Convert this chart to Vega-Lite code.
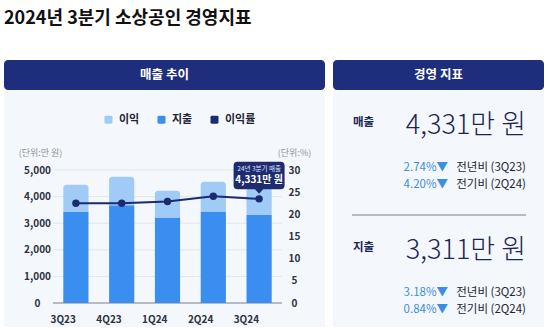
{
  "$schema": "https://vega.github.io/schema/vega-lite/v6.json",
  "padding": {"left": 4, "top": 10, "right": 0, "bottom": 0},
  "background": "white",
  "title": {"text": "2024년 3분기 소상공인 경영지표", "anchor": "start", "fontSize": 18, "fontWeight": 700, "color": "#111111", "font": "Noto Sans CJK KR", "offset": 32},
  "config": {"font": "Noto Sans CJK KR", "view": {"stroke": null}},
  "spacing": 8,
  "hconcat": [
    {
      "spacing": 0,
      "vconcat": [
        {
          "width": 321, "height": 30,
          "view": {"fill": "#1f2e7c", "stroke": null, "cornerRadius": 4},
          "data": {"values": [{"제목": "매출 추이"}]},
          "mark": {"type": "text", "color": "white", "fontSize": 12.5, "fontWeight": 700, "baseline": "middle", "align": "center"},
          "encoding": {"text": {"field": "제목"}}
        },
        {
          "width": 321, "height": 237,
          "view": {"fill": "#f4f8fd", "stroke": null},
          "data": {"values": [
            {"분기": "3Q23", "매출": 4447, "지출": 3424, "이익률": 22.5},
            {"분기": "4Q23", "매출": 4748, "지출": 3674, "이익률": 22.5},
            {"분기": "1Q24", "매출": 4222, "지출": 3211, "이익률": 22.9},
            {"분기": "2Q24", "매출": 4560, "지출": 3440, "이익률": 24.1},
            {"분기": "3Q24", "매출": 4331, "지출": 3311, "이익률": 23.5}
          ]},
          "resolve": {"scale": {"y": "independent"}},
          "layer": [
            {
              "layer": [
                {
                  "data": {"values": [{"눈금": 0}, {"눈금": 1000}, {"눈금": 2000}, {"눈금": 3000}, {"눈금": 4000}, {"눈금": 5000}]},
                  "mark": {"type": "rule"},
                  "encoding": {
                    "x": {"datum": "3Q23", "type": "nominal", "bandPosition": -0.41, "scale": {"domain": ["3Q23", "4Q23", "1Q24", "2Q24", "3Q24"], "range": [49, 278], "paddingInner": 0.45, "paddingOuter": 0.225}},
                    "x2": {"datum": "3Q24", "bandPosition": 1.41},
                    "y": {"field": "눈금", "type": "quantitative", "scale": {"domain": [-902, 8008], "nice": false, "zero": false},
                      "axis": {"orient": "left", "offset": -33, "values": [0, 1000, 2000, 3000, 4000, 5000], "format": ",.0f", "ticks": false, "tickSize": 0, "domain": false, "grid": false, "labelPadding": 0, "labelAlign": "center", "labelBaseline": "middle", "labelFontSize": 10, "labelFontWeight": 600, "labelColor": "#2d3142", "title": "(단위:만 원)", "titleAngle": 0, "titleX": 3, "titleY": 62, "titleAlign": "center", "titleBaseline": "middle", "titleFontSize": 9, "titleFontWeight": 400, "titleColor": "#8d929c"}},
                    "stroke": {"condition": {"test": "datum['눈금'] === 0", "value": "#a3a7ae"}, "value": "#e1e5ec"},
                    "strokeWidth": {"condition": {"test": "datum['눈금'] === 0", "value": 1.5}, "value": 1}
                  }
                },
                {
                  "mark": {"type": "bar"},
                  "encoding": {
                    "x": {"field": "분기", "type": "nominal", "sort": null,
                      "axis": {"title": null, "orient": "bottom", "offset": -8, "ticks": false, "tickSize": 0, "domain": false, "grid": false, "labelPadding": 0, "labelBaseline": "middle", "labelAngle": 0, "labelFontSize": 10, "labelFontWeight": 600, "labelColor": "#2d3142"}},
                    "y": {"field": "지출", "type": "quantitative", "scale": {"domain": [-902, 8008], "nice": false, "zero": false},
                      "axis": {"orient": "left", "offset": -33, "values": [0, 1000, 2000, 3000, 4000, 5000], "format": ",.0f", "ticks": false, "tickSize": 0, "domain": false, "grid": false, "labelPadding": 0, "labelAlign": "center", "labelBaseline": "middle", "labelFontSize": 10, "labelFontWeight": 600, "labelColor": "#2d3142", "title": "(단위:만 원)", "titleAngle": 0, "titleX": 3, "titleY": 62, "titleAlign": "center", "titleBaseline": "middle", "titleFontSize": 9, "titleFontWeight": 400, "titleColor": "#8d929c"}},
                    "y2": {"datum": 0},
                    "color": {"datum": "지출", "type": "nominal"}
                  }
                },
                {
                  "mark": {"type": "bar", "cornerRadiusTopLeft": 3, "cornerRadiusTopRight": 3},
                  "encoding": {
                    "x": {"field": "분기", "type": "nominal", "sort": null},
                    "y": {"field": "매출", "type": "quantitative", "scale": {"domain": [-902, 8008], "nice": false, "zero": false},
                      "axis": {"orient": "left", "offset": -33, "values": [0, 1000, 2000, 3000, 4000, 5000], "format": ",.0f", "ticks": false, "tickSize": 0, "domain": false, "grid": false, "labelPadding": 0, "labelAlign": "center", "labelBaseline": "middle", "labelFontSize": 10, "labelFontWeight": 600, "labelColor": "#2d3142", "title": "(단위:만 원)", "titleAngle": 0, "titleX": 3, "titleY": 62, "titleAlign": "center", "titleBaseline": "middle", "titleFontSize": 9, "titleFontWeight": 400, "titleColor": "#8d929c"}},
                    "y2": {"field": "지출"},
                    "color": {"datum": "이익", "type": "nominal",
                      "scale": {"domain": ["이익", "지출", "이익률"], "range": ["#9fcbf6", "#3a8ef0", "#1c2a70"]},
                      "legend": {"orient": "none", "legendX": 99, "legendY": 54, "direction": "horizontal", "title": null,
                        "symbolType": "M-0.65,-1 L0.65,-1 Q1,-1 1,-0.65 L1,0.65 Q1,1 0.65,1 L-0.65,1 Q-1,1 -1,0.65 L-1,-0.65 Q-1,-1 -0.65,-1 Z",
                        "symbolSize": 64, "symbolStrokeWidth": 0, "labelFontSize": 11, "labelFontWeight": 600, "labelColor": "#1f2433", "columnPadding": 16, "labelOffset": 5}}
                  }
                }
              ]
            },
            {
              "layer": [
                {
                  "mark": {"type": "line", "strokeWidth": 2},
                  "encoding": {
                    "x": {"field": "분기", "type": "nominal", "sort": null},
                    "y": {"field": "이익률", "type": "quantitative", "scale": {"domain": [-5.41, 48.05], "nice": false, "zero": false},
                      "axis": {"orient": "right", "offset": -31, "values": [0, 5, 10, 15, 20, 25, 30], "ticks": false, "tickSize": 0, "domain": false, "grid": false, "labelPadding": 0, "labelAlign": "center", "labelBaseline": "middle", "labelFontSize": 10, "labelFontWeight": 600, "labelColor": "#2d3142", "title": "(단위:%)", "titleAngle": 0, "titleX": 0, "titleY": 62, "titleAlign": "center", "titleBaseline": "middle", "titleFontSize": 9, "titleFontWeight": 400, "titleColor": "#8d929c"}},
                    "color": {"datum": "이익률", "type": "nominal"}
                  }
                },
                {
                  "mark": {"type": "point", "filled": true, "size": 55, "opacity": 1},
                  "encoding": {
                    "x": {"field": "분기", "type": "nominal", "sort": null},
                    "y": {"field": "이익률", "type": "quantitative", "scale": {"domain": [-5.41, 48.05], "nice": false, "zero": false},
                      "axis": {"orient": "right", "offset": -31, "values": [0, 5, 10, 15, 20, 25, 30], "ticks": false, "tickSize": 0, "domain": false, "grid": false, "labelPadding": 0, "labelAlign": "center", "labelBaseline": "middle", "labelFontSize": 10, "labelFontWeight": 600, "labelColor": "#2d3142", "title": "(단위:%)", "titleAngle": 0, "titleX": 0, "titleY": 62, "titleAlign": "center", "titleBaseline": "middle", "titleFontSize": 9, "titleFontWeight": 400, "titleColor": "#8d929c"}},
                    "color": {"datum": "이익률", "type": "nominal"}
                  }
                },
                {
                  "transform": [{"filter": {"field": "분기", "equal": "3Q24"}}],
                  "mark": {"type": "point", "filled": true, "opacity": 1, "size": 2601, "color": "#1e2b6f", "strokeWidth": 0,
                    "shape": "M-0.843,-1.451 L0.843,-1.451 Q1,-1.451 1,-1.294 L1,-0.537 Q1,-0.38 0.843,-0.38 L0.16,-0.38 L0,-0.2 L-0.16,-0.38 L-0.843,-0.38 Q-1,-0.38 -1,-0.537 L-1,-1.294 Q-1,-1.451 -0.843,-1.451 Z"},
                  "encoding": {
                    "x": {"field": "분기", "type": "nominal", "sort": null},
                    "y": {"field": "이익률", "type": "quantitative", "scale": {"domain": [-5.41, 48.05], "nice": false, "zero": false},
                      "axis": {"orient": "right", "offset": -31, "values": [0, 5, 10, 15, 20, 25, 30], "ticks": false, "tickSize": 0, "domain": false, "grid": false, "labelPadding": 0, "labelAlign": "center", "labelBaseline": "middle", "labelFontSize": 10, "labelFontWeight": 600, "labelColor": "#2d3142", "title": "(단위:%)", "titleAngle": 0, "titleX": 0, "titleY": 62, "titleAlign": "center", "titleBaseline": "middle", "titleFontSize": 9, "titleFontWeight": 400, "titleColor": "#8d929c"}}
                  }
                },
                {
                  "transform": [{"filter": {"field": "분기", "equal": "3Q24"}}],
                  "mark": {"type": "text", "fontSize": 6.5, "color": "#dfe6ff", "dy": -30, "baseline": "middle", "align": "center", "text": "24년 3분기 매출"},
                  "encoding": {
                    "x": {"field": "분기", "type": "nominal", "sort": null},
                    "y": {"field": "이익률", "type": "quantitative", "scale": {"domain": [-5.41, 48.05], "nice": false, "zero": false},
                      "axis": {"orient": "right", "offset": -31, "values": [0, 5, 10, 15, 20, 25, 30], "ticks": false, "tickSize": 0, "domain": false, "grid": false, "labelPadding": 0, "labelAlign": "center", "labelBaseline": "middle", "labelFontSize": 10, "labelFontWeight": 600, "labelColor": "#2d3142", "title": "(단위:%)", "titleAngle": 0, "titleX": 0, "titleY": 62, "titleAlign": "center", "titleBaseline": "middle", "titleFontSize": 9, "titleFontWeight": 400, "titleColor": "#8d929c"}}
                  }
                },
                {
                  "transform": [{"filter": {"field": "분기", "equal": "3Q24"}}],
                  "mark": {"type": "text", "fontSize": 10, "fontWeight": 700, "color": "white", "dy": -18.5, "baseline": "middle", "align": "center", "text": {"expr": "format(datum['매출'], ',') + '만 원'"}},
                  "encoding": {
                    "x": {"field": "분기", "type": "nominal", "sort": null},
                    "y": {"field": "이익률", "type": "quantitative", "scale": {"domain": [-5.41, 48.05], "nice": false, "zero": false},
                      "axis": {"orient": "right", "offset": -31, "values": [0, 5, 10, 15, 20, 25, 30], "ticks": false, "tickSize": 0, "domain": false, "grid": false, "labelPadding": 0, "labelAlign": "center", "labelBaseline": "middle", "labelFontSize": 10, "labelFontWeight": 600, "labelColor": "#2d3142", "title": "(단위:%)", "titleAngle": 0, "titleX": 0, "titleY": 62, "titleAlign": "center", "titleBaseline": "middle", "titleFontSize": 9, "titleFontWeight": 400, "titleColor": "#8d929c"}}
                  }
                }
              ]
            }
          ]
        }
      ]
    },
    {
      "spacing": 0,
      "vconcat": [
        {
          "width": 211, "height": 30,
          "view": {"fill": "#1f2e7c", "stroke": null, "cornerRadius": 4},
          "data": {"values": [{"제목": "경영 지표"}]},
          "mark": {"type": "text", "color": "white", "fontSize": 12.5, "fontWeight": 700, "baseline": "middle", "align": "center"},
          "encoding": {"text": {"field": "제목"}}
        },
        {
          "width": 211, "height": 237,
          "view": {"fill": "#f4f8fd", "stroke": null},
          "data": {"values": [
            {"지표": "매출", "금액": 4331, "전년비": 2.74, "전기비": 4.20},
            {"지표": "지출", "금액": 3311, "전년비": 3.18, "전기비": 0.84}
          ]},
          "layer": [
            {
              "transform": [{"filter": {"field": "지표", "equal": "지출"}}],
              "mark": {"type": "rule", "color": "#a3a6ac", "strokeWidth": 1.5},
              "encoding": {
                "x": {"datum": "라벨", "type": "nominal", "scale": {"type": "point", "domain": ["라벨", "값"], "range": [19, 193], "padding": 0}, "axis": null},
                "x2": {"datum": "값"},
                "y": {"field": "지표", "type": "nominal", "bandPosition": 0, "scale": {"type": "band", "domain": ["매출", "지출"], "range": [0, 250], "paddingInner": 0, "paddingOuter": 0}, "axis": null}
              }
            },
            {
              "mark": {"type": "text", "align": "left", "baseline": "middle", "fontSize": 11.5, "fontWeight": 700, "color": "#1b2556", "dx": 1},
              "encoding": {
                "x": {"datum": "라벨", "type": "nominal", "axis": null},
                "y": {"field": "지표", "type": "nominal", "bandPosition": 0.26, "axis": null},
                "text": {"field": "지표"}
              }
            },
            {
              "mark": {"type": "text", "align": "right", "baseline": "middle", "fontSize": 27, "fontWeight": 300, "color": "#1b2556", "text": {"expr": "format(datum['금액'], ',') + '만 원'"}},
              "encoding": {
                "x": {"datum": "값", "type": "nominal", "axis": null},
                "y": {"field": "지표", "type": "nominal", "bandPosition": 0.29, "axis": null}
              }
            },
            {
              "mark": {"type": "text", "align": "right", "baseline": "middle", "fontSize": 11.5, "color": "#1f2433", "text": "전년비 (3Q23)"},
              "encoding": {
                "x": {"datum": "값", "type": "nominal", "axis": null},
                "y": {"field": "지표", "type": "nominal", "bandPosition": 0.624, "axis": null}
              }
            },
            {
              "mark": {"type": "text", "align": "right", "baseline": "middle", "fontSize": 11.5, "color": "#3b8de6", "dx": -78, "text": {"expr": "format(datum['전년비'], '.2f') + '%▼'"}},
              "encoding": {
                "x": {"datum": "값", "type": "nominal", "axis": null},
                "y": {"field": "지표", "type": "nominal", "bandPosition": 0.624, "axis": null}
              }
            },
            {
              "mark": {"type": "text", "align": "right", "baseline": "middle", "fontSize": 11.5, "color": "#1f2433", "text": "전기비 (2Q24)"},
              "encoding": {
                "x": {"datum": "값", "type": "nominal", "axis": null},
                "y": {"field": "지표", "type": "nominal", "bandPosition": 0.76, "axis": null}
              }
            },
            {
              "mark": {"type": "text", "align": "right", "baseline": "middle", "fontSize": 11.5, "color": "#3b8de6", "dx": -78, "text": {"expr": "format(datum['전기비'], '.2f') + '%▼'"}},
              "encoding": {
                "x": {"datum": "값", "type": "nominal", "axis": null},
                "y": {"field": "지표", "type": "nominal", "bandPosition": 0.76, "axis": null}
              }
            }
          ]
        }
      ]
    }
  ]
}
